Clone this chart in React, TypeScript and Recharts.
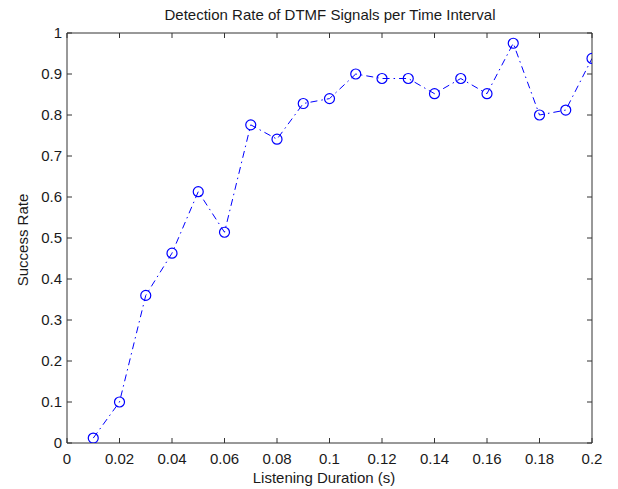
import React from 'react';
import { LineChart, Line, XAxis, YAxis } from 'recharts';

const durations = [0.01, 0.02, 0.03, 0.04, 0.05, 0.06, 0.07, 0.08, 0.09, 0.1, 0.11, 0.12, 0.13, 0.14, 0.15, 0.16, 0.17, 0.18, 0.19, 0.2];
const successRates = [0.012, 0.1, 0.36, 0.463, 0.613, 0.514, 0.776, 0.741, 0.828, 0.84, 0.9, 0.889, 0.889, 0.852, 0.889, 0.852, 0.975, 0.8, 0.812, 0.938];
const xTicks = [0, 0.02, 0.04, 0.06, 0.08, 0.1, 0.12, 0.14, 0.16, 0.18, 0.2];
const yTicks = [0, 0.1, 0.2, 0.3, 0.4, 0.5, 0.6, 0.7, 0.8, 0.9, 1];

const data = durations.map((d, i) => ({ x: d, y: successRates[i] }));

const fmt = (v: number) => String(Number(Number(v).toFixed(2)));
const FONT = 'Arial, "Liberation Sans", Helvetica, sans-serif';
const FS = 15;
const TEXT = '#1a1a1a';
const AXIS = '#333';
const TL = 5;
const XM = 10;
const YM = 5;

const BottomTick = (props: any) => {
  const { x, y, payload } = props;
  const ay = y - XM;
  return (
    <g>
      <line x1={x} x2={x} y1={ay} y2={ay - TL} stroke={AXIS} strokeWidth={1} />
      <text x={x} y={y} dy="0.71em" textAnchor="middle" fontSize={FS} fontFamily={FONT} fill={TEXT}>
        {fmt(payload.value)}
      </text>
    </g>
  );
};

const TopTick = (props: any) => {
  const { x, y } = props;
  return <line x1={x} x2={x} y1={y} y2={y + TL} stroke={AXIS} strokeWidth={1} />;
};

const LeftTick = (props: any) => {
  const { x, y, payload } = props;
  const ax = x + YM;
  return (
    <g>
      <line x1={ax} x2={ax + TL} y1={y} y2={y} stroke={AXIS} strokeWidth={1} />
      <text x={x} y={y} dy="0.355em" textAnchor="end" fontSize={FS} fontFamily={FONT} fill={TEXT}>
        {fmt(payload.value)}
      </text>
    </g>
  );
};

const RightTick = (props: any) => {
  const { x, y } = props;
  return <line x1={x} x2={x - TL} y1={y} y2={y} stroke={AXIS} strokeWidth={1} />;
};

export default function App() {
  return (
    <div style={{ position: 'absolute', left: 0, top: 0, width: 618, height: 489, background: '#fff' }}>
      <LineChart width={618} height={489} data={data} margin={{ top: 32, right: 25, bottom: 16, left: 27 }}>
        <XAxis
          xAxisId="b"
          dataKey="x"
          type="number"
          domain={[0, 0.2]}
          ticks={xTicks}
          height={30}
          tickSize={0}
          tickMargin={XM}
          tickLine={false}
          stroke={AXIS}
          tick={<BottomTick />}
          interval={0}
          allowDataOverflow
        />
        <XAxis
          xAxisId="t"
          orientation="top"
          dataKey="x"
          type="number"
          domain={[0, 0.2]}
          ticks={xTicks}
          height={1}
          tickSize={0}
          tickMargin={0}
          tickLine={false}
          stroke={AXIS}
          tick={<TopTick />}
          interval={0}
          allowDataOverflow
        />
        <YAxis
          yAxisId="l"
          type="number"
          domain={[0, 1]}
          ticks={yTicks}
          width={40}
          tickSize={0}
          tickMargin={YM}
          tickLine={false}
          stroke={AXIS}
          tick={<LeftTick />}
          interval={0}
          allowDataOverflow
        />
        <YAxis
          yAxisId="r"
          orientation="right"
          type="number"
          domain={[0, 1]}
          ticks={yTicks}
          width={1}
          tickSize={0}
          tickMargin={0}
          tickLine={false}
          stroke={AXIS}
          tick={<RightTick />}
          interval={0}
          allowDataOverflow
        />
        <Line
          xAxisId="t"
          yAxisId="r"
          dataKey="y"
          stroke="none"
          dot={false}
          activeDot={false}
          legendType="none"
          isAnimationActive={false}
        />
        <Line
          xAxisId="b"
          yAxisId="l"
          dataKey="y"
          type="linear"
          stroke="#0000ff"
          strokeWidth={1}
          strokeDasharray="7 4 1.5 4"
          dot={{ r: 5, fill: 'none', stroke: '#0000ff', strokeWidth: 1.2, strokeDasharray: '' }}
          isAnimationActive={false}
        />
        <text x={330} y={20} textAnchor="middle" fontSize={FS} fontFamily={FONT} fill={TEXT}>
          Detection Rate of DTMF Signals per Time Interval
        </text>
        <text x={324} y={483} textAnchor="middle" fontSize={FS} fontFamily={FONT} fill={TEXT}>
          Listening Duration (s)
        </text>
        <text x={28} y={240} textAnchor="middle" fontSize={FS} fontFamily={FONT} fill={TEXT} transform="rotate(-90 28 240)">
          Success Rate
        </text>
      </LineChart>
    </div>
  );
}
